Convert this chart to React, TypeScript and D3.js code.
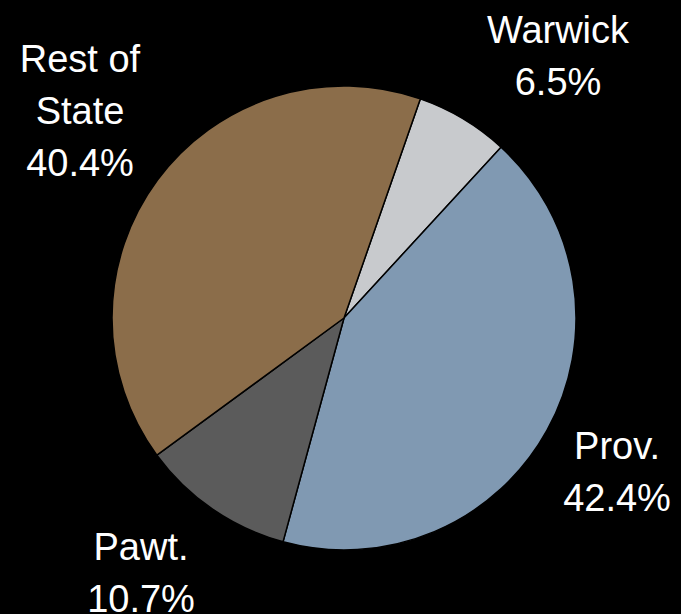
import React, { useEffect, useRef } from 'react';
import * as d3 from 'd3';

// slice data, clockwise from the Warwick slice
const regions = ['Warwick', 'Prov.', 'Pawt.', 'Rest of State'];
const shares = [6.5, 42.4, 10.7, 40.4];
const labelLines = [['Warwick', '6.5%'], ['Prov.', '42.4%'], ['Pawt.', '10.7%'], ['Rest of', 'State', '40.4%']];
const colors = ['#c8cacd', '#8099b2', '#5b5b5b', '#8b6d4a'];

// where each label block sits (top baseline)
const labelPos: Record<string, [number, number]> = {
  'Warwick': [558, 43],
  'Prov.': [617, 459],
  'Pawt.': [141, 560],
  'Rest of State': [80, 72],
};

const W = 681;
const H = 614;

export default function App() {
  const svgRef = useRef<SVGSVGElement>(null);

  useEffect(() => {
    document.body.style.margin = '0';
    document.body.style.background = '#000';
    if (!svgRef.current) return;

    const svg = d3.select(svgRef.current);
    svg.selectAll('*').remove();

    const cx = 344, cy = 318, radius = 232;
    const start = (19.2 * Math.PI) / 180;

    const data = regions.map((name, i) => ({ name, value: shares[i], lines: labelLines[i], color: colors[i] }));

    const pie = d3.pie<typeof data[number]>()
      .sort(null)
      .value(d => d.value)
      .startAngle(start)
      .endAngle(start + 2 * Math.PI);

    const arc = d3.arc<d3.PieArcDatum<typeof data[number]>>()
      .innerRadius(0)
      .outerRadius(radius);

    const g = svg.append('g').attr('transform', `translate(${cx},${cy})`);

    g.selectAll('path')
      .data(pie(data))
      .enter()
      .append('path')
      .attr('d', arc)
      .attr('fill', d => d.data.color)
      .attr('stroke', '#000')
      .attr('stroke-width', 1.5)
      .attr('stroke-linejoin', 'round');

    // labels
    data.forEach(d => {
      const [x, y] = labelPos[d.name];
      const t = svg.append('text')
        .attr('x', x)
        .attr('y', y)
        .attr('text-anchor', 'middle')
        .attr('fill', '#fff')
        .attr('font-family', '"Liberation Sans", Arial, sans-serif')
        .attr('font-size', 38);
      d.lines.forEach((line, i) => {
        t.append('tspan')
          .attr('x', x)
          .attr('dy', i === 0 ? 0 : 52)
          .text(line);
      });
    });
  }, []);

  return <svg ref={svgRef} width={W} height={H} style={{ display: 'block', background: '#000' }} />;
}
